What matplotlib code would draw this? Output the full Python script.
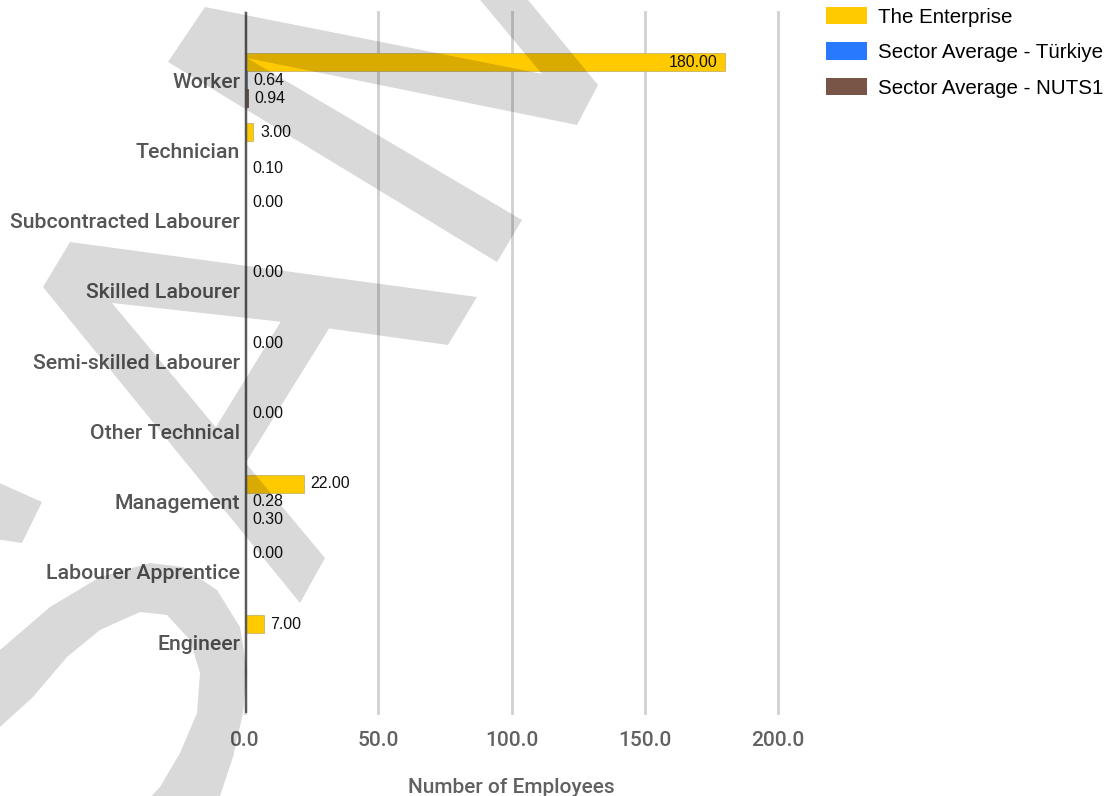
import matplotlib
matplotlib.use("Agg")
import matplotlib.pyplot as plt
import numpy as np
from matplotlib.path import Path
from matplotlib.patches import PathPatch, Patch
from matplotlib.transforms import Affine2D

W, H = 1114, 796
DPI = 100

CATEGORIES = [
    "Worker", "Technician", "Subcontracted Labourer", "Skilled Labourer",
    "Semi-skilled Labourer", "Other Technical", "Management",
    "Labourer Apprentice", "Engineer",
]
ENTERPRISE = [180, 3, 0, 0, 0, 0, 22, 0, 7]
SECTOR_TR = [0.64, None, None, None, None, None, 0.28, None, None]
SECTOR_NUTS1 = [0.94, 0.10, None, None, None, None, 0.30, None, None]
SERIES_NAMES = ["The Enterprise", "Sector Average - Türkiye", "Sector Average - NUTS1"]
X_TICKS = [0, 50, 100, 150, 200]

COLORS = ["#FFCA00", "#2979FF", "#795548"]
EDGES = ["#c8b46a", "#6f8fc0", "#6b5248"]
LABEL_GRAY = "#555555"
TICK_GRAY = "#616161"

# watermark strokes, in image pixels (y down)
WATERMARK = [
    [(205, 7), (598, 85), (577, 125), (247, 58), (522, 220), (497, 262), (168, 62)],
    [(476, -5), (524, -5), (598, 85), (542, 74)],
    [(70, 242), (477, 297), (448, 345), (283, 322), (112, 303), (325, 558), (300, 603), (43, 287)],
    [(283, 318), (330, 327), (235, 480), (208, 440)],
    [(-5, 481), (42, 502), (22, 543), (-5, 539)],
    [(-5, 655), (0, 650), (50, 607), (100, 577), (150, 563), (183, 567), (217, 590),
     (240, 627), (247, 670), (243, 713), (233, 757), (217, 805),
     (143, 805), (160, 787), (180, 753), (197, 713), (200, 673), (190, 640),
     (167, 615), (140, 612), (100, 630), (67, 657), (33, 697), (0, 727), (-5, 731)],
]


def add_watermark(fig):
    verts, codes = [], []
    for poly in WATERMARK:
        pts = np.array(poly, dtype=float)
        x, y = pts[:, 0], pts[:, 1]
        area = 0.5 * np.sum(x * np.roll(y, -1) - np.roll(x, -1) * y)
        if area < 0:
            pts = pts[::-1]
        verts.extend(pts.tolist() + [pts[0].tolist()])
        codes.extend([Path.MOVETO] + [Path.LINETO] * (len(pts) - 1) + [Path.CLOSEPOLY])
    tr = Affine2D().scale(1 / W, -1 / H).translate(0, 1) + fig.transFigure
    patch = PathPatch(Path(verts, codes), transform=tr, facecolor="black",
                      edgecolor="none", alpha=0.15, zorder=50)
    fig.add_artist(patch)


fig = plt.figure(figsize=(W / DPI, H / DPI), dpi=DPI)
ax = fig.add_axes([245 / W, 83 / H, 533 / W, 701 / H])

y = np.arange(len(CATEGORIES))
bar_h = 0.256
series = [ENTERPRISE, SECTOR_TR, SECTOR_NUTS1]

for i, vals in enumerate(series):
    off = (i - 1) * bar_h
    for yi, v in zip(y, vals):
        if v is None:
            continue
        ax.barh(yi + off, v, height=bar_h, color=COLORS[i], edgecolor=EDGES[i],
                linewidth=0.6, zorder=3)
        inside = v > 40
        ax.annotate(f"{v:.2f}", (v, yi + off), xytext=(-5 if inside else 5, 0),
                    textcoords="offset points", ha="right" if inside else "left",
                    va="center", fontsize=11.4, family="Liberation Sans",
                    color="#111111", zorder=5)

ax.set_xlim(0, 200)
ax.set_ylim(9.01, -0.97)
ax.set_xticks(X_TICKS)
ax.set_xticklabels([f"{t:.1f}" for t in X_TICKS], fontsize=15, family="Roboto",
                   fontweight="medium", color=TICK_GRAY)
ax.set_yticks(y)
ax.set_yticklabels(CATEGORIES, fontsize=15.3, family="Roboto", fontweight="medium",
                   color=LABEL_GRAY)
ax.tick_params(length=0)
ax.tick_params(axis="x", pad=13)
ax.tick_params(axis="y", pad=3.5)
for s in ax.spines.values():
    s.set_visible(False)
ax.grid(axis="x", color="#d0d0d0", linewidth=2, zorder=0)
for gl in ax.get_xgridlines():
    gl.set_clip_on(False)
ax.axvline(0, color="#5a5a5a", linewidth=2.5, zorder=4)
ax.set_xlabel("Number of Employees", fontsize=15, family="Roboto", fontweight="medium",
              color=TICK_GRAY, labelpad=20)

handles = [Patch(facecolor=c, edgecolor="none") for c in COLORS]
fig.legend(handles, SERIES_NAMES, loc="upper left", bbox_to_anchor=(826 / W, 1 - 7 / H),
           frameon=False, borderpad=0, borderaxespad=0, handlelength=2.0, handleheight=0.9,
           handletextpad=0.55, labelspacing=0.77,
           prop={"family": "Liberation Sans", "size": 14.8})

add_watermark(fig)

fig.savefig("out.png", dpi=DPI)
